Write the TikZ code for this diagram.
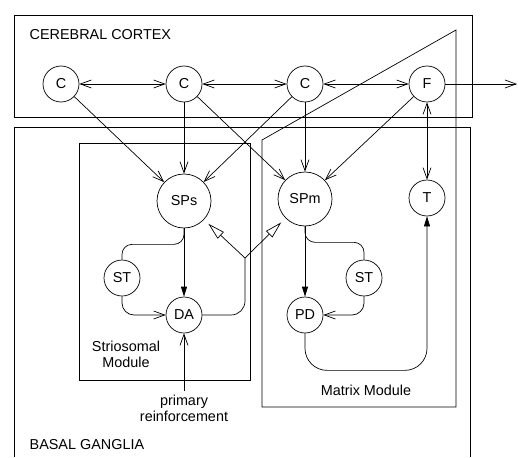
\documentclass[tikz,border=0pt]{standalone}
\usepackage{fontspec}
\setmainfont{Liberation Sans}
\usepackage{tikz}
\usetikzlibrary{arrows.meta}

\begin{document}
\begin{tikzpicture}[x=1pt,y=-1pt,line width=0.7pt,
    font=\fontsize{14.4}{16}\selectfont,
    >={Straight Barb[length=11pt,width=8pt]},
    unit/.style={draw,circle,minimum size=36pt,inner sep=0pt},
    bigunit/.style={unit,minimum size=54pt},
    fillhead/.style={-{Triangle[length=10pt,width=6pt]}},
    hollowhead/.style={-{Triangle[open,length=17pt,width=9pt]},shorten >=6pt}]
  \useasboundingbox (0,0) rectangle (518,457);

  % cortex box
  \draw (14,15) rectangle (472,117);
  \node[anchor=west] (ctx) at (26,35) {CEREBRAL CORTEX};

  % basal ganglia box (runs off the bottom)
  \draw (14,457) |- (470,127) -- (470,457);
  \node[anchor=west] (bg) at (26,445) {BASAL GANGLIA};

  % striosomal module
  \draw (79,143) rectangle (250,380);
  \node[align=center] (strio) at (126,354) {Striosomal\\Module};

  % matrix module, reaching up into the cortex
  \draw (456,30) -- (262,140) -- (262,407) -- (456,407) -- cycle;
  \node (matrix) at (366,390) {Matrix Module};

  % cortical units
  \node[unit] (c1) at (61,84) {C};
  \node[unit] (c2) at (184,84) {C};
  \node[unit] (c3) at (305,84) {C};
  \node[unit] (f) at (427,84) {F};
  \coordinate (out) at (517,84);

  % striatal units
  \node[bigunit] (sps) at (184,201) {SPs};
  \node[bigunit] (spm) at (305,199) {SPm};
  \node[unit] (t) at (427,198) {T};
  \node[unit] (st1) at (122,278) {ST};
  \node[unit] (st2) at (364,278) {ST};
  \node[unit] (da) at (184,315) {DA};
  \node[unit] (pd) at (305,315) {PD};
  \node[align=center] (prim) at (184,408) {primary\\reinforcement};
  \coordinate (split) at (245,258);

  % cortex links
  \draw[<->] (c1) -- (c2);
  \draw[<->] (c2) -- (c3);
  \draw[<->] (c3) -- (f);
  \draw[->] (f) -- (out);
  \draw[<->] (f) -- (t);

  % cortex to striatum
  \draw[->] (c1) -- (sps);
  \draw[->] (c2) -- (sps);
  \draw[->] (c3) -- (sps);
  \draw[->] (c2) -- (spm);
  \draw[->] (c3) -- (spm);
  \draw[->] (f) -- (spm);

  % striosomal loop
  \draw[fillhead] (sps) -- (da);
  \draw[rounded corners=10pt] (sps.south) -- ++(0,16) -| (st1.north);
  \draw[->,rounded corners=12pt] (st1.south) |- (da.west);
  \draw[rounded corners=14pt] (da.east) -| (split);
  \draw[hollowhead] (split) -- (sps);
  \draw[hollowhead] (split) -- (spm);
  \draw[->] (prim.north) -- (da.south);

  % matrix loop
  \draw[fillhead] (spm) -- (pd);
  \draw[rounded corners=10pt] (spm.south) -- ++(0,16) -| (st2.north);
  \draw[->,rounded corners=12pt] (st2.south) |- (pd.east);
  \draw[fillhead,rounded corners=22pt] (pd.south) -- ++(0,37) -| (t.south);
\end{tikzpicture}
\end{document}
